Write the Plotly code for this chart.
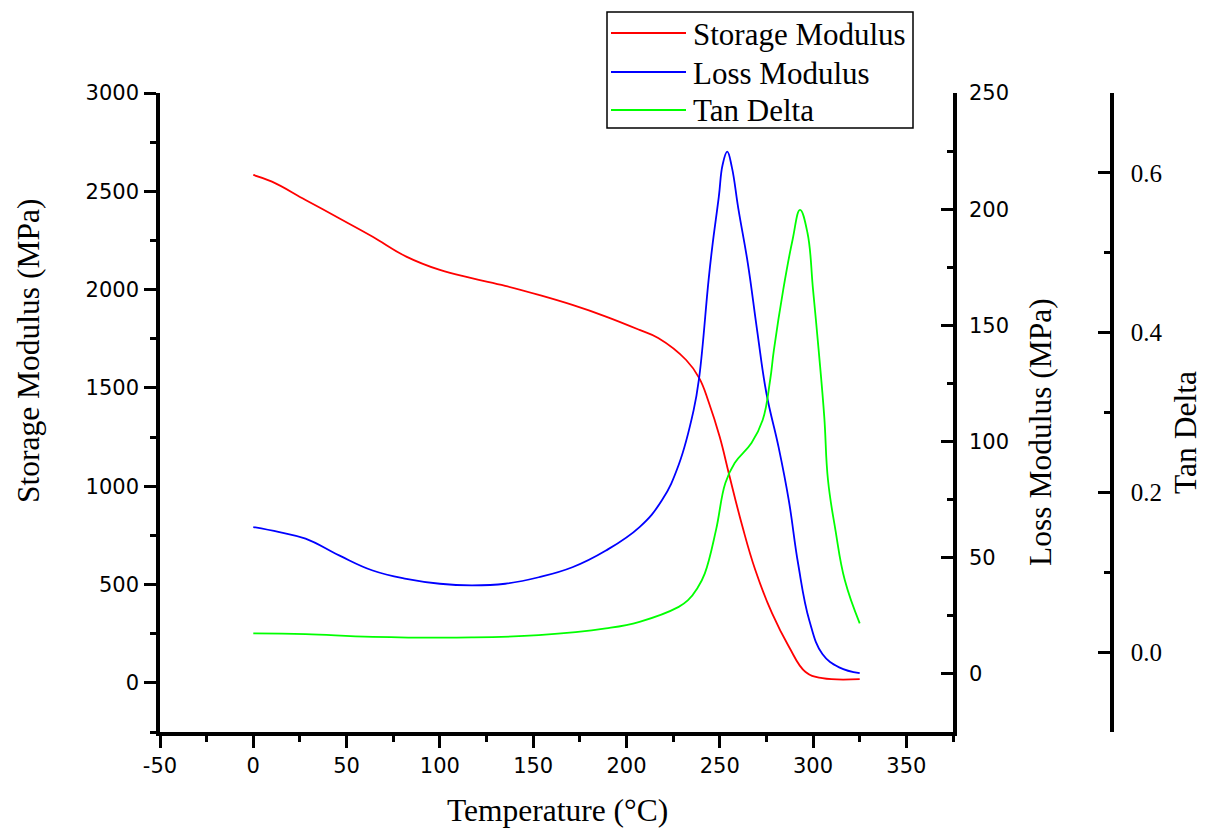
import plotly.graph_objects as go

# ---- data ----
temp_storage = [0, 10, 28, 46, 64, 82, 100, 117, 135, 153, 171, 189, 207, 217, 232, 239, 244, 250, 255, 262, 269, 278, 287, 296, 305, 325]
storage_modulus = [2583, 2549, 2456, 2363, 2269, 2168, 2100, 2058, 2019, 1973, 1922, 1863, 1795, 1754, 1642, 1550, 1430, 1250, 1060, 800, 575, 354, 185, 55, 24, 19]

temp_loss = [0, 14, 28, 46, 64, 82, 100, 117, 135, 153, 171, 189, 207, 219, 228, 236, 239, 244, 246, 249.5, 251.5, 254, 256.5, 260, 265, 270, 275, 281.5, 287, 292, 298, 305, 314, 325]
loss_modulus = [63.2, 61.0, 58.2, 51.0, 44.5, 40.9, 38.8, 38.1, 38.8, 41.6, 45.9, 53.1, 63.2, 74.7, 90.0, 113.5, 127.8, 169.5, 183.9, 205.4, 219.0, 224.8, 218.0, 200.0, 176.9, 148.0, 120.8, 97.7, 74.7, 47.4, 23.0, 8.6, 2.8, 0.3]

temp_tan = [0, 28, 64, 117, 153, 189, 207, 228, 233, 238, 242, 248, 253, 258, 267, 273, 277, 279, 284, 289, 293, 297, 300, 303, 306, 308, 312, 317, 325]
tan_delta = [0.0234, 0.0225, 0.0192, 0.0184, 0.0213, 0.0297, 0.038, 0.0567, 0.065, 0.080, 0.0986, 0.153, 0.2117, 0.2368, 0.2618, 0.2906, 0.3407, 0.378, 0.4535, 0.516, 0.5537, 0.525, 0.4535, 0.378, 0.2948, 0.2155, 0.1528, 0.0902, 0.036]

series_names = ["Storage Modulus", "Loss Modulus", "Tan Delta"]
series_colors = ["#FF0000", "#0000FF", "#00FF00"]
x_ticks = [-50, 0, 50, 100, 150, 200, 250, 300, 350]
x_tick_text = ["-50", "0", "50", "100", "150", "200", "250", "300", "350"]

SERIF = "Liberation Serif, Times New Roman, serif"
SANS = "DejaVu Sans, Verdana, sans-serif"

fig = go.Figure()
for tx, ty, nm, col, ax in [(temp_storage, storage_modulus, series_names[0], series_colors[0], "y"),
                            (temp_loss, loss_modulus, series_names[1], series_colors[1], "y2"),
                            (temp_tan, tan_delta, series_names[2], series_colors[2], "y3")]:
    fig.add_trace(go.Scatter(x=tx, y=ty, name=nm, mode="lines", showlegend=False,
                             line=dict(color=col, width=1.8, shape="spline", smoothing=1.2), yaxis=ax))

W, H = 1205, 830
L_M, R_M, T_M, B_M = 160, 70, 93, 98
pw = W - L_M - R_M
ph = H - T_M - B_M

def px_x(p):
    return (p - L_M) / pw

def px_y(p):
    return (H - B_M - p) / ph

axis_common = dict(showgrid=False, zeroline=False, showline=True, linecolor="black", linewidth=3.5,
                   tickcolor="black", tickwidth=3, ticklen=12)

fig.update_layout(
    width=W, height=H,
    margin=dict(l=L_M, r=R_M, t=T_M, b=B_M),
    paper_bgcolor="white", plot_bgcolor="white",
    showlegend=False,
    xaxis=dict(domain=[0, px_x(953)], range=[-50, 375], tickvals=x_ticks, ticktext=x_tick_text, ticks="outside",
               tickfont=dict(family=SANS, size=21, color="black"), ticklabelstandoff=0,
               minor=dict(dtick=25, tick0=0, ticks="outside", ticklen=6, tickwidth=3, tickcolor="black"),
               **axis_common),
    yaxis=dict(range=[-250, 3000], tickvals=[0, 500, 1000, 1500, 2000, 2500, 3000], ticks="outside",
               tickfont=dict(family=SANS, size=21, color="black"), ticklabelstandoff=1,
               minor=dict(dtick=250, tick0=0, ticks="outside", ticklen=6, tickwidth=3, tickcolor="black"),
               **axis_common),
    yaxis2=dict(range=[-25, 250], tickvals=[0, 50, 100, 150, 200, 250], overlaying="y", side="right",
                anchor="x", ticks="inside",
                tickfont=dict(family=SANS, size=21, color="black"), ticklabelstandoff=8,
                minor=dict(dtick=25, tick0=0, ticks="inside", ticklen=6, tickwidth=3, tickcolor="black"),
                **axis_common),
    yaxis3=dict(range=[-0.1, 0.7], tickvals=[0.0, 0.2, 0.4, 0.6], ticktext=["0.0", "0.2", "0.4", "0.6"],
                overlaying="y", side="right", anchor="free", position=px_x(1112), ticks="inside",
                tickfont=dict(family=SERIF, size=25, color="black"), ticklabelstandoff=12,
                minor=dict(dtick=0.1, tick0=0, ticks="inside", ticklen=6, tickwidth=3, tickcolor="black"),
                **axis_common),
)

# ---- legend box (drawn to match the reference's legend layout) ----
fig.add_shape(type="rect", xref="paper", yref="paper", x0=px_x(607), x1=px_x(913), y0=px_y(128), y1=px_y(12),
              line=dict(color="black", width=1.5), fillcolor="white", layer="above")
legend_rows = [33, 72, 110]
for row_y, nm, col in zip(legend_rows, series_names, series_colors):
    fig.add_shape(type="line", xref="paper", yref="paper", x0=px_x(611), x1=px_x(686), y0=px_y(row_y), y1=px_y(row_y),
                  line=dict(color=col, width=1.8), layer="above")
    fig.add_annotation(text=nm, xref="paper", yref="paper", x=px_x(691), y=px_y(row_y + 1),
                       showarrow=False, xanchor="left", yanchor="middle",
                       font=dict(family=SERIF, size=31, color="black"))

title_font = dict(family=SERIF, size=31.5, color="black")
fig.add_annotation(text="Storage Modulus (MPa)", xref="paper", yref="paper", x=px_x(28), y=px_y(351),
                   textangle=-90, showarrow=False, font=title_font, xanchor="center", yanchor="middle", borderpad=0)
fig.add_annotation(text="Temperature (°C)", xref="paper", yref="paper", x=px_x(557), y=px_y(810),
                   showarrow=False, font=title_font, xanchor="center", yanchor="middle", borderpad=0)
fig.add_annotation(text="Loss Modulus (MPa)", xref="paper", yref="paper", x=px_x(1040), y=px_y(432),
                   textangle=-90, showarrow=False, font=title_font, xanchor="center", yanchor="middle", borderpad=0)
fig.add_annotation(text="Tan Delta", xref="paper", yref="paper", x=px_x(1185), y=px_y(433),
                   textangle=-90, showarrow=False, font=title_font, xanchor="center", yanchor="middle", borderpad=0)

fig.write_html("out.html")
